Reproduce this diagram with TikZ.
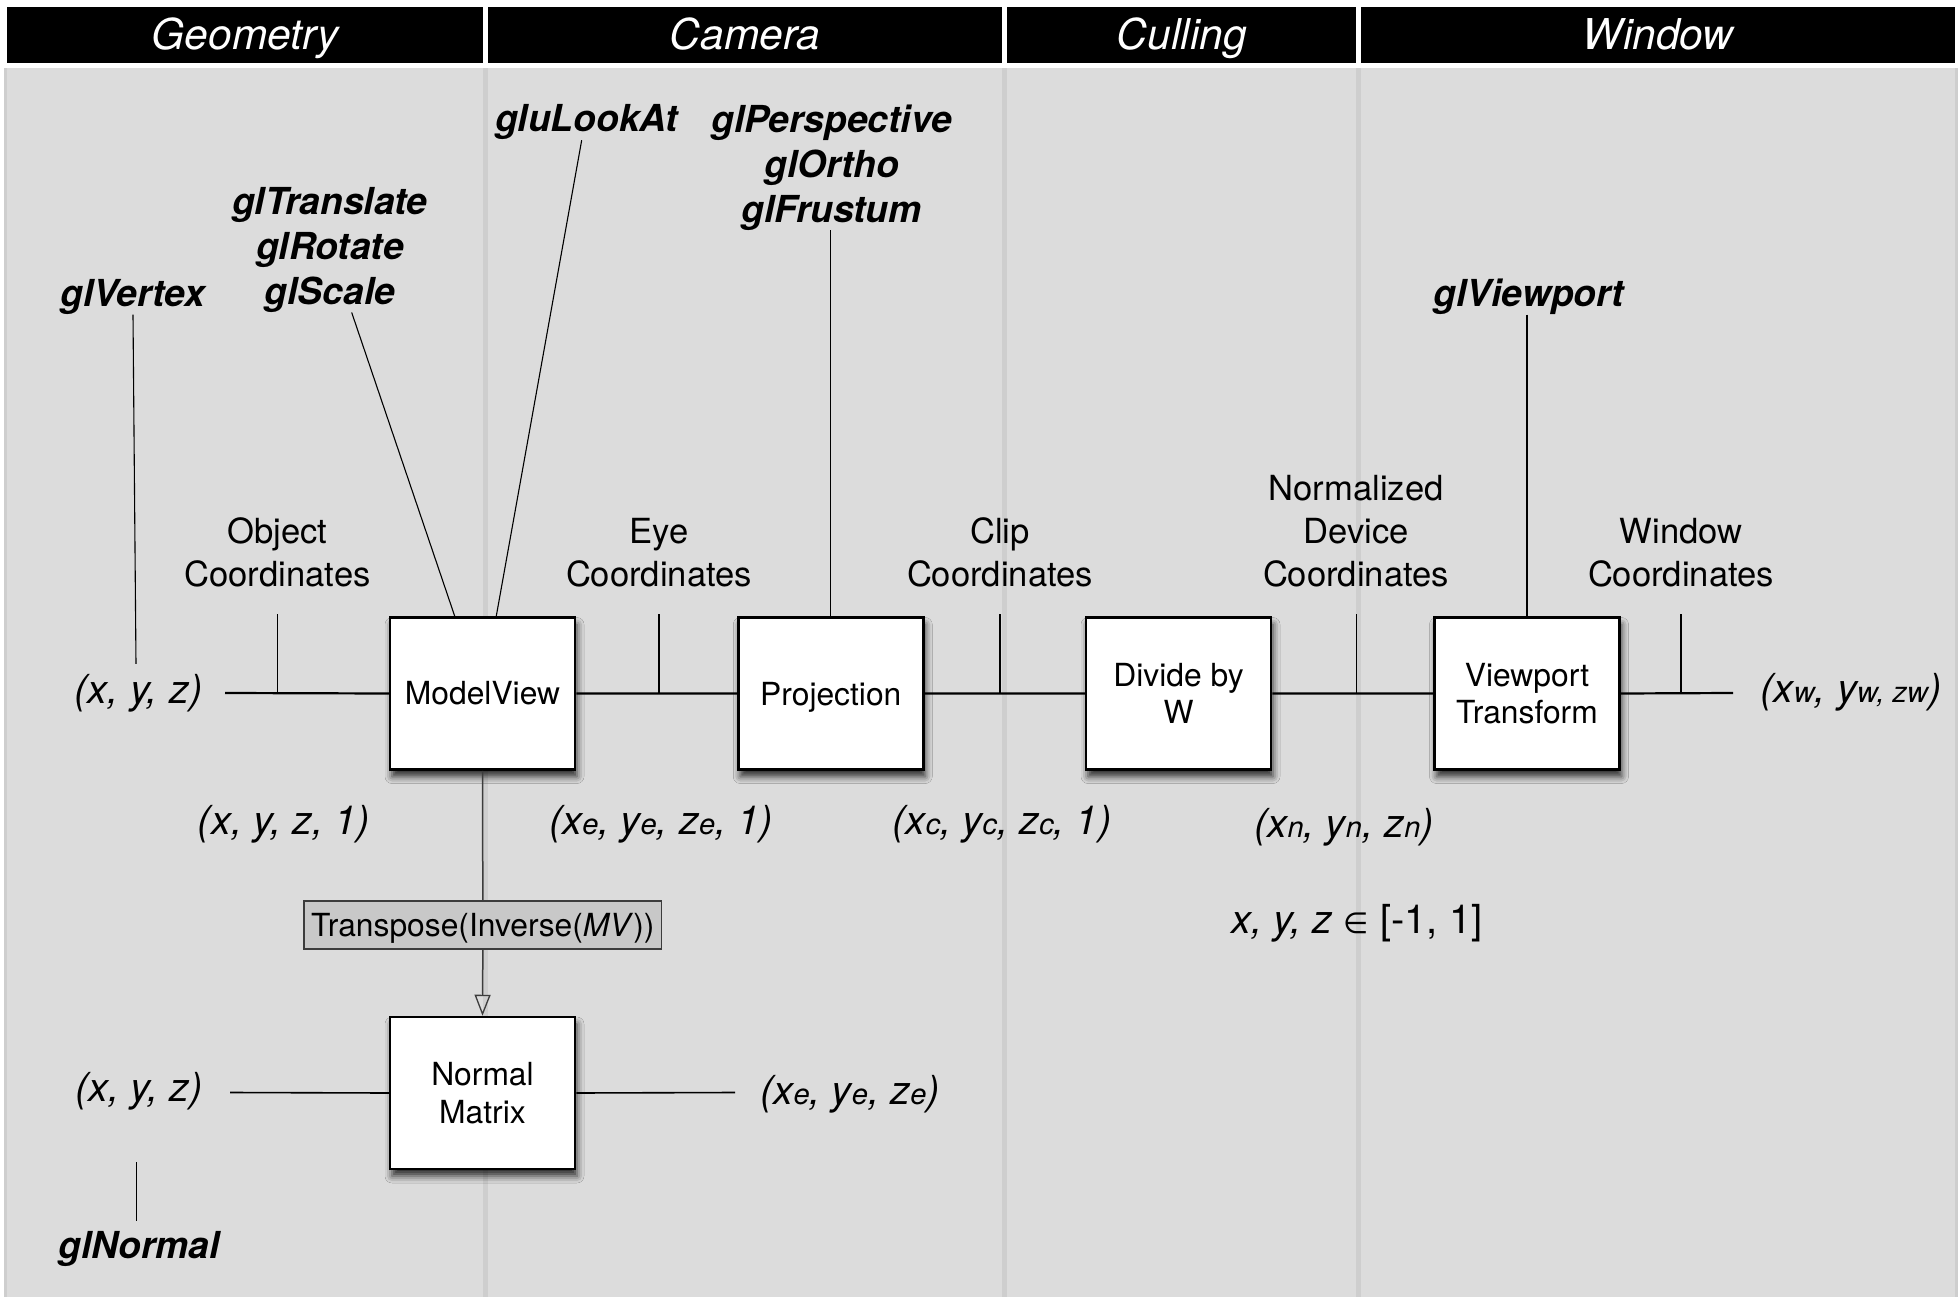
\documentclass[tikz,border=0pt]{standalone}
\usepackage{fontspec}
\setmainfont{TeX Gyre Heros}
\newfontfamily\symfnt{DejaVu Sans}
\usetikzlibrary{arrows.meta,calc,shadows,shadows.blur}

\definecolor{panel}{RGB}{220,220,220}
\definecolor{seam}{RGB}{206,206,206}
\definecolor{tgray}{RGB}{200,200,200}
\definecolor{tedge}{RGB}{60,60,60}

\newcommand\hdrfont{\fontsize{42.5}{50}\selectfont\itshape}
\newcommand\lblfont{\fontsize{34.6}{43}\selectfont}
\newcommand\boxfont{\fontsize{31.8}{37.5}\selectfont}
\newcommand\apifont{\fontsize{37.2}{45}\selectfont\bfseries\itshape}
\newcommand\crdfont{\fontsize{40}{48}\selectfont\itshape}
\newcommand\subs[1]{{\fontsize{29}{29}\selectfont #1}}

\tikzset{
  hdrbar/.style={fill=black, text=white, font=\hdrfont, inner sep=0,
    minimum height=55.7pt, text height=30.3pt, text depth=0pt},
  stage/.style={draw, line width=2.5pt, fill=white, minimum width=185pt,
    minimum height=152pt, align=center, font=\boxfont, inner sep=0,
    blur shadow={shadow xshift=2pt, shadow yshift=-7pt,
      shadow blur radius=7pt, shadow opacity=80}},
  caption/.style={align=center, font=\lblfont, inner sep=0},
  api/.style={align=center, font=\apifont, inner sep=0},
  coord/.style={font=\crdfont, inner sep=0},
  bus/.style={line width=2.2pt},
  tick/.style={line width=1.1pt},
  lead/.style={line width=1.1pt},
  nline/.style={line width=1.6pt, draw=black},
  mvline/.style={line width=1.5pt, draw=tedge},
}

\begin{document}
\begin{tikzpicture}[x=1pt, y=-1pt]
\useasboundingbox (0,0) rectangle (1960,1297);

% column panels with darker seams between them
\fill[seam] (4,68) rectangle (1957.7,1297);
\fill[panel] (7.3,68) rectangle (482.7,1297);
\fill[panel] (487.7,68) rectangle (1002.3,1297);
\fill[panel] (1007.3,68) rectangle (1356.3,1297);
\fill[panel] (1361.3,68) rectangle (1955,1297);

% column headers
\node[hdrbar, minimum width=475.4pt] (hgeo) at (245,34.85) {Geometry};
\node[hdrbar, minimum width=514.6pt] (hcam) at (745,34.85) {Camera};
\node[hdrbar, minimum width=349pt] (hcul) at (1181.8,34.85) {Culling};
\node[hdrbar, minimum width=593.7pt] (hwin) at (1658.15,34.85) {Window};

% pipeline stages
\node[stage] (mv) at (482.5,693.5) {ModelView};
\node[stage, text depth=0pt] (proj) at (830.75,693.5) {Projection};
\node[stage] (div) at (1178.5,693.5) {Divide by\\W};
\node[stage] (vp) at (1527,693.5) {Viewport\\Transform};
\node[stage] (nm) at (482.5,1093) {Normal\\Matrix};

% vertex pipeline bus
\node[coord] (vin) at (138.5,693) {(x, y, z)};
\node[coord] (vout) at (1851,692) {(x\subs{w}, y\subs{w, zw})};
\coordinate (busin) at (225,693);
\coordinate (busout) at (1733,693);
\draw[bus] (busin) -- (mv.west) (mv.east) -- (proj.west)
  (proj.east) -- (div.west) (div.east) -- (vp.west) (vp.east) -- (busout);

% coordinate-space ticks and captions
\node[caption] (cobj) at (277.5,552.5) {Object\\Coordinates};
\node[caption] (ceye) at (659,552.5) {Eye\\Coordinates};
\node[caption] (cclip) at (1000,552.5) {Clip\\Coordinates};
\node[caption] (cndc) at (1356,531) {Normalized\\Device\\Coordinates};
\node[caption] (cwin) at (1681,552.5) {Window\\Coordinates};
\coordinate (tkobj) at (277.7,614);
\coordinate (tkeye) at (659,614);
\coordinate (tkclip) at (1000,614);
\coordinate (tkndc) at (1356.6,614);
\coordinate (tkwin) at (1681,614);
\foreach \t in {tkobj,tkeye,tkclip,tkndc,tkwin}
  \draw[tick] (\t) -- (\t |- busin);

% homogeneous coordinates below the bus
\node[coord] (hobj) at (284,824) {(x, y, z, 1)};
\node[coord] (heye) at (661,824) {(x\subs{e}, y\subs{e}, z\subs{e}, 1)};
\node[coord] (hclip) at (1002,824) {(x\subs{c}, y\subs{c}, z\subs{c}, 1)};
\node[coord] (hndc) at (1344,827) {(x\subs{n}, y\subs{n}, z\subs{n})};
\node[coord] (range) at (1357,923)
  {x, y, z {\symfnt\upshape\fontsize{29}{29}\selectfont ∈} \upshape[-1, 1]};

% API calls feeding each stage
\node[api] (vtx) at (133,296.7) {glVertex};
\node[api] (xform) at (330,249.7) {glTranslate\\glRotate\\glScale};
\node[api] (look) at (586.7,122.4) {gluLookAt};
\node[api] (persp) at (831.7,167.4) {glPerspective\\glOrtho\\glFrustum};
\node[api] (vpapi) at (1529,296.7) {glViewport};

\draw[lead] (vtx.south) -- ($(vin.north)+(-2.5,-10)$);
\draw[lead] ($(xform.south)+(21.7,0)$) -- ($(mv.north west)+(66,0)$);
\draw[lead] ($(look.south)+(-5,0)$) -- ($(mv.north west)+(107.5,0)$);
\draw[lead] (persp.south -| proj.north) -- (proj.north);
\draw[lead] (vpapi.south -| vp.north) -- (vp.north);

% normal pipeline
\node[draw=tedge, fill=tgray, line width=1.3pt, minimum width=357.7pt,
  minimum height=48pt, inner sep=0, font=\boxfont, text depth=0pt]
  (tinv) at (482.85,925) {Transpose(Inverse(\textit{MV}))};
\draw[mvline] (mv.south) -- (tinv.north);
\draw[mvline, -{Triangle[open, length=21pt, width=16pt, line width=1.3pt]}]
  (tinv.south) -- (nm.north);

\node[coord] (nin) at (139,1091) {(x, y, z)};
\node[coord] (nout) at (850,1094) {(x\subs{e}, y\subs{e}, z\subs{e})};
\coordinate (nbusin) at (230,1092.5);
\coordinate (nbusout) at (735,1092.5);
\draw[nline] (nbusin) -- (nm.west) (nm.east) -- (nbusout);

\node[api] (nrmapi) at (139,1248.7) {glNormal};
\coordinate (nrmtop) at (136.5,1162);
\draw[lead] (nrmtop) -- ($(nrmapi.north)+(-2.5,-10)$);
\end{tikzpicture}
\end{document}
